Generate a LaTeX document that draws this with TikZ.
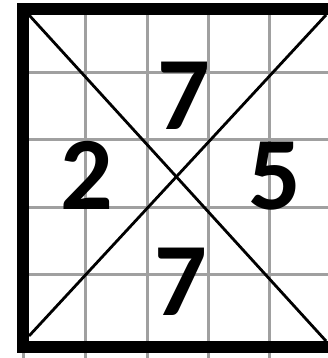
\documentclass[tikz,border=0pt]{standalone}
\usepackage{fontspec}
\usepackage{tikz}
\setmainfont{Carlito}
\definecolor{gridgray}{HTML}{A0A0A0}

\begin{document}
\begin{tikzpicture}[x=1pt,y=-1pt,
  gridline/.style={draw=gridgray,line width=3pt},
  frame/.style={draw=black,line width=12pt},
  cross/.style={draw=black,line width=2.8pt},
  digit/.style={inner sep=0pt,font=\fontsize{104}{104}\selectfont\bfseries}]

  \useasboundingbox (0,0) rectangle (328,358);
  \clip (0,0) rectangle (328,358);

  % grid
  \foreach \x in {85,147,208,269}
    \draw[gridline] (\x,9) -- (\x,358);
  \draw[gridline] (23,347) -- (23,358);
  \foreach \y in {73,140,207,274}
    \draw[gridline] (29,\y) -- (328,\y);

  % diagonals
  \coordinate (tl) at (29,15);
  \coordinate (tr) at (326,15);
  \coordinate (bl) at (29,336);
  \coordinate (br) at (326,341);
  \draw[cross] (tl) -- (br);
  \draw[cross] (bl) -- (tr);

  % frame
  \draw[frame] (23,9.5) rectangle (334,347);

  \node[digit] (top) at (184,96) {7};
  \node[digit] (left) at (87,175) {2};
  \node[digit] (right) at (275,176) {5};
  \node[digit] (bottom) at (181,282) {7};
\end{tikzpicture}
\end{document}
